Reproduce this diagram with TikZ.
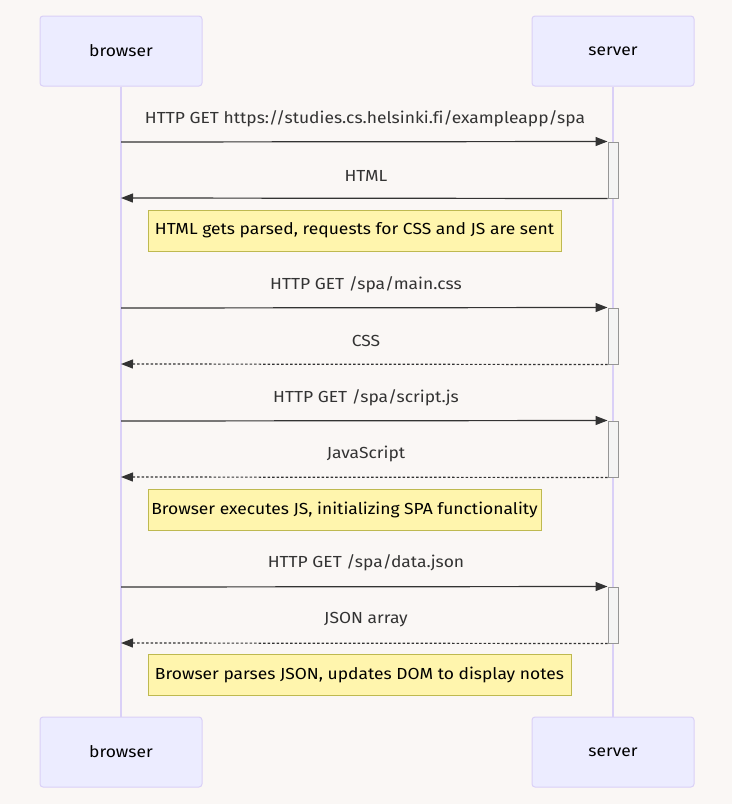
\documentclass[tikz,border=0pt]{standalone}
\usepackage{fontspec}
\setmainfont[FakeStretch=1.09,Ligatures=NoCommon]{Fira Sans}
\usetikzlibrary{arrows.meta}
\definecolor{bg}{RGB}{250,247,245}
\definecolor{actfill}{RGB}{236,236,255}
\definecolor{actborder}{RGB}{218,208,247}
\definecolor{lifeline}{RGB}{218,208,247}
\definecolor{txt}{RGB}{51,51,51}
\definecolor{notefill}{RGB}{255,245,173}
\definecolor{noteborder}{RGB}{190,185,80}
\definecolor{activfill}{RGB}{244,244,244}
\definecolor{activborder}{RGB}{150,150,150}
\begin{document}
\begin{tikzpicture}[x=1pt,y=-1pt,
  font=\fontsize{16}{19}\selectfont,
  actor/.style={draw=actborder,fill=actfill,rounded corners=3pt,line width=1pt,
    minimum width=162pt,minimum height=70pt,inner sep=0pt,text=black},
  life/.style={draw=lifeline,line width=1.6pt},
  activ/.style={draw=activborder,fill=activfill,line width=1pt,minimum width=10pt,inner sep=0pt},
  msg/.style={draw=txt,line width=1.2pt,-{Triangle[length=12pt,width=9pt]}},
  reply/.style={msg,dash pattern=on 2.5pt off 2pt},
  lbl/.style={text=txt,inner sep=0pt},
  note/.style={draw=noteborder,fill=notefill,line width=1pt,minimum height=41pt,inner sep=0pt,text=black}]
\fill[bg] (0,0) rectangle (732,804);
\useasboundingbox (0,0) rectangle (732,804);
% actors
\node[actor] (bt) at (121,51) {browser};
\node[actor] (st) at (613,51) {server};
\node[actor] (bb) at (121,752) {browser};
\node[actor] (sb) at (613,752) {server};
\draw[life] (bt.south) -- (bb.north);
\draw[life] (st.south) -- (sb.north);
% activations
\node[activ,minimum height=56pt] (a1) at (613,170) {};
\node[activ,minimum height=56pt] (a2) at (613,336) {};
\node[activ,minimum height=56pt] (a3) at (613,449) {};
\node[activ,minimum height=56pt] (a4) at (613,615) {};
% browser-side endpoints
\coordinate (b1) at (121,142);
\coordinate (b2) at (121,198);
\coordinate (b3) at (121,308);
\coordinate (b4) at (121,364);
\coordinate (b5) at (121,421);
\coordinate (b6) at (121,477);
\coordinate (b7) at (121,587);
\coordinate (b8) at (121,643);
% messages
\node[lbl] (l1) at (365,119) {HTTP GET https://studies.cs.helsinki.fi/exampleapp/spa};
\draw[msg] (b1) -- (a1.north west);
\node[lbl] (l2) at (366,176) {HTML};
\draw[msg] (a1.south west) -- (b2);
\node[note,minimum width=413pt] (n1) at (354.5,230.5) {HTML gets parsed, requests for CSS and JS are sent};
\node[lbl] (l3) at (366,285) {HTTP GET /spa/main.css};
\draw[msg] (b3) -- (a2.north west);
\node[lbl] (l4) at (366,341) {CSS};
\draw[reply] (a2.south west) -- (b4);
\node[lbl] (l5) at (366,398) {HTTP GET /spa/script.js};
\draw[msg] (b5) -- (a3.north west);
\node[lbl] (l6) at (366,454) {JavaScript};
\draw[reply] (a3.south west) -- (b6);
\node[note,minimum width=393pt] (n2) at (344.5,509.5) {Browser executes JS, initializing SPA functionality};
\node[lbl] (l7) at (366,563) {HTTP GET /spa/data.json};
\draw[msg] (b7) -- (a4.north west);
\node[lbl] (l8) at (366,620) {JSON array};
\draw[reply] (a4.south west) -- (b8);
\node[note,minimum width=423pt] (n3) at (359.5,674.5) {Browser parses JSON, updates DOM to display notes};
\end{tikzpicture}
\end{document}
